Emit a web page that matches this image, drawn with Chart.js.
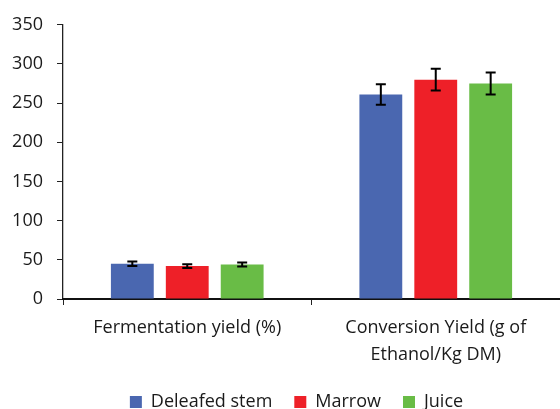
<!DOCTYPE html>
<html>
<head>
<meta charset="utf-8">
<script src="https://cdn.jsdelivr.net/npm/chart.js@4/dist/chart.umd.min.js"></script>
<style>
  html, body { margin: 0; padding: 0; background: #fff; }
  #wrap { width: 560px; height: 409px; }
</style>
</head>
<body>
<div id="wrap"><canvas id="chart" width="560" height="409"></canvas></div>
<script>
const categories = [
  ["Fermentation yield (%)"],
  ["Conversion Yield (g of", "Ethanol/Kg DM)"],
];
const seriesNames = ["Deleafed stem", "Marrow", "Juice"];
const deleafedStem = [45, 261];
const marrow = [42, 280];
const juice = [44, 275];
const deleafedErr = [3, 13];
const marrowErr = [2.5, 14];
const juiceErr = [2.5, 14];
const yTicks = [0, 50, 100, 150, 200, 250, 300, 350];

const colors = ["#4a67b0", "#ee2028", "#69bc46"];
const FONT = "'Open Sans', Lato, sans-serif";

// draws the error bars on top of each bar
const errorBars = {
  id: "errorBars",
  afterDatasetsDraw(chart) {
    const ctx = chart.ctx;
    const y = chart.scales.y;
    ctx.save();
    ctx.strokeStyle = "#000";
    ctx.lineWidth = 2;
    chart.data.datasets.forEach((ds, i) => {
      const meta = chart.getDatasetMeta(i);
      meta.data.forEach((bar, j) => {
        const v = ds.data[j], e = ds.errors[j];
        const top = y.getPixelForValue(v + e);
        const bot = y.getPixelForValue(v - e);
        ctx.beginPath();
        ctx.moveTo(bar.x, top); ctx.lineTo(bar.x, bot);
        ctx.moveTo(bar.x - 5, top); ctx.lineTo(bar.x + 5, top);
        ctx.moveTo(bar.x - 5, bot); ctx.lineTo(bar.x + 5, bot);
        ctx.stroke();
      });
    });
    ctx.restore();
  }
};

// the legend sits a bit right of centre in the original
const legendShift = {
  id: "legendShift",
  afterLayout(chart) {
    const lg = chart.legend;
    lg.left += 16;
    lg.right += 16;
    lg.top -= 6;
    lg.bottom -= 6;
  }
};

new Chart(document.getElementById("chart"), {
  type: "bar",
  data: {
    labels: categories,
    datasets: [
      { label: seriesNames[0], data: deleafedStem, errors: deleafedErr, backgroundColor: colors[0] },
      { label: seriesNames[1], data: marrow, errors: marrowErr, backgroundColor: colors[1] },
      { label: seriesNames[2], data: juice, errors: juiceErr, backgroundColor: colors[2] },
    ],
  },
  options: {
    responsive: false,
    animation: false,
    categoryPercentage: 0.663,
    barPercentage: 0.78,
    layout: { padding: { top: 16.5, right: -1, left: 0, bottom: -18 } },
    plugins: {
      tooltip: { enabled: false },
      legend: {
        position: "bottom",
        labels: {
          color: "#1a1a1a",
          font: { family: FONT, size: 18 },
          boxWidth: 12,
          boxHeight: 12,
          padding: 22,
        },
      },
    },
    scales: {
      y: {
        min: 0,
        max: 350,
        afterBuildTicks(scale) {
          scale.ticks = yTicks.map(v => ({ value: v }));
        },
        afterFit(scale) { scale.width = 63; },
        border: { color: "#222", width: 1.3 },
        grid: { drawOnChartArea: false, tickLength: 6, color: "#222" },
        ticks: {
          color: "#1a1a1a",
          font: { family: FONT, size: 18 },
          padding: 14,
        },
      },
      x: {
        border: { color: "#111", width: 2 },
        grid: { drawOnChartArea: false, tickLength: 6, color: "#222" },
        ticks: {
          color: "#1a1a1a",
          font: { family: FONT, size: 18, lineHeight: 1.5 },
          padding: 9,
          maxRotation: 0,
        },
      },
    },
  },
  plugins: [errorBars, legendShift],
});
</script>
</body>
</html>
